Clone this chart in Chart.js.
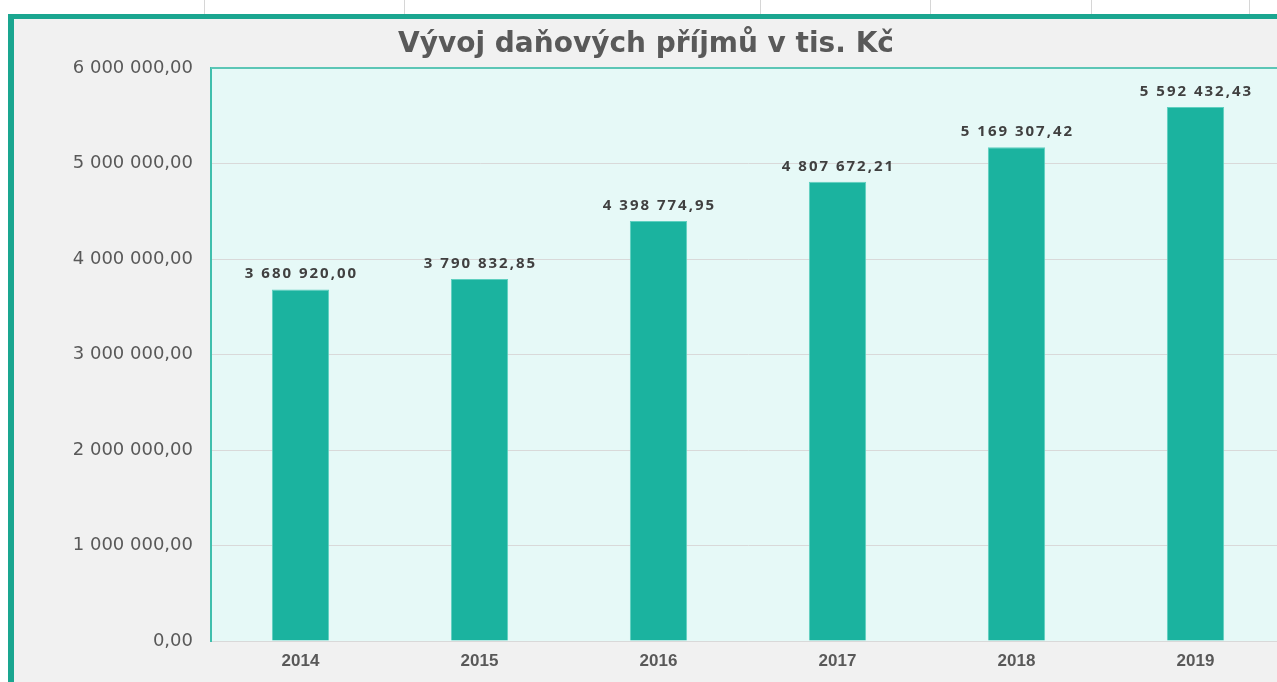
<!DOCTYPE html>
<html>
<head>
<meta charset="utf-8">
<script src="https://cdn.jsdelivr.net/npm/chart.js@4.4.0/dist/chart.umd.min.js"></script>
<style>
  html, body { margin: 0; padding: 0; background: #ffffff; overflow: hidden; width: 1277px; height: 682px; }
  .tick { position: absolute; top: 0; width: 1px; height: 14px; background: #d6d6d6; }
  #frame { position: absolute; left: 8px; top: 14px; width: 1300px; height: 700px;
           border-top: 5px solid #1aa690; border-left: 6px solid #1aa690; background: #f1f1f1; }
  #wrap { position: absolute; left: 14px; top: 19px; width: 1290px; height: 663px; }
</style>
</head>
<body>
<div class="tick" style="left:204px"></div>
<div class="tick" style="left:404px"></div>
<div class="tick" style="left:760px"></div>
<div class="tick" style="left:930px"></div>
<div class="tick" style="left:1091px"></div>
<div class="tick" style="left:1249px"></div>
<div id="frame"></div>
<div id="wrap"><canvas id="taxChart" width="1290" height="663"></canvas></div>
<script>
const years = ['2014', '2015', '2016', '2017', '2018', '2019'];
const incomes = [3680920.00, 3790832.85, 4398774.95, 4807672.21, 5169307.42, 5592432.43];
const yTicks = [0, 1000000, 2000000, 3000000, 4000000, 5000000, 6000000];
const chartTitle = 'Vývoj daňových příjmů v tis. Kč';

function czNumber(v) {
    const parts = v.toFixed(2).split('.');
    return parts[0].replace(/\B(?=(\d{3})+(?!\d))/g, ' ') + ',' + parts[1];
}

// plot background, top border, title and value labels
const decor = {
    id: 'decor',
    beforeDraw(chart) {
        const { ctx, chartArea: a } = chart;
        ctx.save();
        ctx.fillStyle = '#e6f9f7';
        ctx.fillRect(a.left, a.top, a.right - a.left, a.bottom - a.top);
        ctx.restore();
    },
    afterDraw(chart) {
        const { ctx, chartArea: a } = chart;
        ctx.save();
        ctx.strokeStyle = '#5cc6b6';
        ctx.lineWidth = 2;
        ctx.beginPath();
        ctx.moveTo(a.left, a.top);
        ctx.lineTo(a.right, a.top);
        ctx.stroke();

        ctx.fillStyle = '#595959';
        ctx.font = 'bold 28px "DejaVu Sans"';
        ctx.textAlign = 'center';
        ctx.textBaseline = 'middle';
        ctx.fillText(chartTitle, 632, 26);

        ctx.fillStyle = '#404040';
        ctx.font = 'bold 15px "Open Sans"';
        ctx.letterSpacing = '2px';
        ctx.textBaseline = 'bottom';
        chart.getDatasetMeta(0).data.forEach((bar, i) => {
            ctx.fillText(czNumber(incomes[i]), bar.x + 1, bar.y - 8);
        });
        ctx.restore();
    }
};

const ctx = document.getElementById('taxChart').getContext('2d');
new Chart(ctx, {
    type: 'bar',
    data: {
        labels: years,
        datasets: [{
            data: incomes,
            backgroundColor: '#1bb39f',
            borderColor: '#5fd0c0',
            borderWidth: 1,
            barPercentage: 0.32,
            categoryPercentage: 1
        }]
    },
    options: {
        responsive: false,
        animation: false,
        layout: { padding: { top: 49, right: 19, left: 0, bottom: 0 } },
        plugins: {
            legend: { display: false },
            title: { display: false },
            tooltip: { enabled: false }
        },
        scales: {
            x: {
                grid: { display: false, drawTicks: false },
                border: { color: '#d9d9d9', width: 1 },
                ticks: {
                    color: '#595959',
                    font: { family: 'Liberation Sans', size: 17, weight: 'bold' },
                    padding: 10
                },
                afterFit(scale) { scale.height = 41; }
            },
            y: {
                min: 0,
                max: 6000000,
                afterBuildTicks(scale) { scale.ticks = yTicks.map(v => ({ value: v })); },
                grid: { color: '#d9d9d9', drawTicks: false },
                border: { color: '#3fbfad', width: 2 },
                ticks: {
                    color: '#595959',
                    font: { family: 'DejaVu Sans', size: 18 },
                    padding: 18,
                    callback: v => czNumber(v)
                },
                afterFit(scale) { scale.width = 197; }
            }
        }
    },
    plugins: [decor]
});
</script>
</body>
</html>
